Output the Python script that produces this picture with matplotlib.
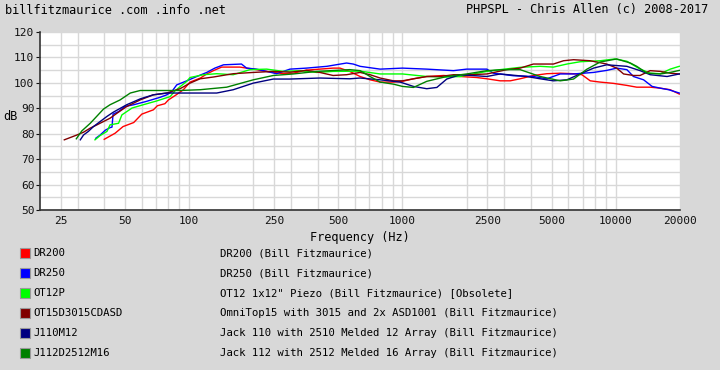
import matplotlib
matplotlib.use("Agg")
import matplotlib.pyplot as plt
from matplotlib.patches import Rectangle
from matplotlib.ticker import FixedLocator, NullFormatter

plt.rcParams['font.family'] = ['DejaVu Sans Mono']

# ---------------- data ----------------
dr200_f = [40, 45, 49, 55, 60, 68, 71, 77, 80, 87, 94, 101, 113, 121, 130, 142, 173, 200, 231, 277, 308, 355, 410, 473, 509, 566, 633,
           705, 786, 907, 1000, 1126, 1300, 1557, 1863, 2230, 2487, 2870, 3200, 3560, 4110, 4750, 5490, 6340, 6940, 7590, 8450, 9750,
           11270, 12540, 14500, 16200, 18000, 19850]
dr200_db = [77.8, 80.2, 82.8, 84.4, 87.7, 89.4, 91.0, 91.8, 93.3, 95.3, 97.3, 100.3, 101.9, 103.5, 104.8, 106.2, 106.2, 105.4, 104.5, 103.6, 103.8, 105.0, 105.4, 105.8, 105.8, 104.5, 102.5,
            101.2, 100.3, 100.3, 100.6, 101.6, 102.5, 102.9, 102.5, 102.1, 101.6, 100.8, 100.8, 101.6, 102.9, 103.6, 103.8, 103.6, 103.2, 100.8, 100.3, 99.8,
            99.0, 98.3, 98.3, 97.9, 97.3, 95.6]

dr250_f = [36.5, 38.3, 40.5, 42.6, 43.5, 44, 46.7, 50, 55, 63, 73, 78.6, 83, 87.5, 97.5, 108.6, 121, 132, 145, 176, 186, 207, 231, 257, 297, 355, 442, 547, 588, 633,
           786, 1000, 1300, 1735, 2000, 2487, 2670, 3310, 4110, 4750, 5490, 6340, 7870, 9070, 10100, 11270, 12100, 13500, 14800, 16200, 17700, 19850]
dr250_db = [78.2, 79.5, 81.4, 82.4, 82.6, 87.7, 88.7, 90.7, 91.4, 92.7, 94.3, 95.3, 96.6, 99.2, 100.8, 102.5, 104.1, 105.8, 107.1, 107.4, 105.8, 105.4, 104.5, 103.6, 105.4, 105.8, 106.5, 107.8, 107.4, 106.5,
            105.4, 105.8, 105.4, 104.8, 105.4, 105.4, 103.8, 102.8, 102.5, 101.6, 103.5, 103.5, 104.1, 104.9, 105.8, 105.2, 102.5, 101.2, 98.6, 97.9, 97.3, 96.0]

ot12p_f = [36.2, 38.3, 41.2, 42.6, 46.7, 48.4, 54, 61, 70.6, 81.5, 86, 97.5, 101, 116.7, 134.7, 161, 193, 231, 277, 331, 396, 473, 633,
           786, 1000, 1300, 1613, 1863, 2487, 2870, 3560, 4420, 5100, 5900, 6800, 8450, 9900, 11270, 13000, 14500, 16200, 18000, 19850]
ot12p_db = [77.6, 79.3, 80.9, 83.5, 84.1, 87.4, 90.1, 91.4, 92.9, 94.6, 96.9, 100.6, 102.1, 103.2, 103.6, 103.2, 105.2, 105.4, 104.5, 104.8, 104.1, 104.5, 104.6,
            103.5, 103.5, 102.5, 102.3, 102.5, 104.5, 105.2, 106.1, 106.5, 106.2, 107.4, 108.3, 108.7, 109.4, 108.5, 105.4, 103.8, 103.6, 105.4, 106.5]

ot15_f = [26, 29.8, 32, 34.4, 37, 39.7, 42.6, 45.8, 51, 59, 68, 78.6, 90.7, 101, 112.6, 130, 161, 200, 248, 297, 355, 410, 473, 547, 633,
          705, 786, 907, 1000, 1126, 1300, 1500, 1735, 2070, 2487, 3090, 3560, 4110, 5100, 5690, 6340, 7590, 9070, 10100, 10880, 12100, 13000, 14500, 16200, 18000, 19850]
ot15_db = [77.6, 79.5, 80.6, 82.2, 83.5, 84.8, 86.1, 88.0, 90.7, 93.3, 95.3, 96.0, 97.7, 99.9, 101.6, 102.3, 103.6, 104.1, 104.5, 104.2, 104.9, 104.1, 102.9, 103.2, 104.1,
           103.2, 101.9, 100.8, 100.8, 101.6, 102.5, 102.5, 103.2, 103.2, 103.5, 105.2, 105.8, 107.4, 107.4, 108.7, 109.1, 108.7, 107.4, 105.8, 103.5, 102.9, 102.9, 104.8, 104.5, 103.8, 103.5]

j110_f = [30.9, 32, 33.7, 35.6, 38.3, 41.2, 44.2, 51, 59, 68, 78.6, 90.7, 112.6, 134.7, 161, 200, 248, 297, 410, 566, 633,
          786, 975, 1126, 1300, 1450, 1613, 1863, 2487, 2870, 3820, 4420, 5100, 5900, 6800, 7870, 9070, 11270, 13000, 14500, 17400, 19850]
j110_db = [77.6, 79.5, 80.9, 82.8, 84.8, 86.8, 88.5, 91.4, 93.7, 95.3, 96.0, 96.0, 96.0, 96.0, 97.3, 99.9, 101.5, 101.5, 101.9, 101.6, 101.9,
           101.2, 100.3, 98.6, 97.7, 98.2, 101.5, 103.2, 102.5, 103.5, 102.5, 101.6, 100.8, 101.2, 103.5, 105.8, 107.1, 106.5, 104.8, 103.2, 102.5, 103.5]

j112_f = [29.6, 31.4, 34.4, 39.7, 42.6, 47.5, 53, 59, 73, 90.7, 112.6, 150, 200, 248, 308, 396, 566, 633,
          705, 786, 907, 1000, 1126, 1300, 1613, 2000, 2487, 2980, 3560, 4420, 5490, 6340, 7330, 8450, 10100, 11700, 12540, 14000, 16200, 18000, 19850]
j112_db = [78.0, 81.1, 84.1, 89.7, 91.4, 93.3, 96.0, 97.0, 97.0, 97.0, 97.3, 98.3, 101.2, 102.9, 103.5, 104.5, 105.2, 104.8,
           102.5, 100.3, 99.5, 98.6, 98.2, 100.6, 102.5, 103.5, 104.8, 105.2, 105.2, 102.5, 100.8, 101.5, 105.4, 108.2, 109.4, 107.8, 106.5, 103.8, 103.5, 104.1, 104.9]

names = ["DR200", "DR250", "OT12P", "OT15D3015CDASD", "J110M12", "J112D2512M16"]
descriptions = ["DR200 (Bill Fitzmaurice)",
                "DR250 (Bill Fitzmaurice)",
                "OT12 1x12\" Piezo (Bill Fitzmaurice) [Obsolete]",
                "OmniTop15 with 3015 and 2x ASD1001 (Bill Fitzmaurice)",
                "Jack 110 with 2510 Melded 12 Array (Bill Fitzmaurice)",
                "Jack 112 with 2512 Melded 16 Array (Bill Fitzmaurice)"]
colors = ["#ff0000", "#0000ff", "#00ff00", "#800000", "#000080", "#008000"]
series = [(dr200_f, dr200_db), (dr250_f, dr250_db), (ot12p_f, ot12p_db),
          (ot15_f, ot15_db), (j110_f, j110_db), (j112_f, j112_db)]

x_tick_vals = [25, 50, 100, 250, 500, 1000, 2500, 5000, 10000, 20000]
x_tick_labels = ["25", "50", "100", "250", "500", "1000", "2500", "5000", "10000", "20000"]
x_grid_vals = [30, 40, 60, 70, 80, 90, 200, 300, 400, 600, 700, 800, 900,
               2000, 3000, 4000, 6000, 7000, 8000, 9000]
y_tick_vals = [50, 60, 70, 80, 90, 100, 110, 120]
y_grid_vals = [55, 65, 75, 85, 95, 105, 115]

# ---------------- figure ----------------
W, H = 720, 370
bg = "#d8d8d8"
fig = plt.figure(figsize=(W / 100, H / 100), dpi=100, facecolor=bg)
ax = fig.add_axes([40 / W, 1 - 210 / H, 640 / W, 178 / H])
ax.set_facecolor("white")

for (f, db), c in zip(series, colors):
    ax.plot(f, db, color=c, lw=1.0)

ax.set_xscale("log")
ax.set_xlim(20, 20000)
ax.set_ylim(50, 120)
ax.xaxis.set_major_locator(FixedLocator(x_tick_vals))
ax.set_xticklabels(x_tick_labels)
ax.xaxis.set_minor_locator(FixedLocator(x_grid_vals))
ax.xaxis.set_minor_formatter(NullFormatter())
ax.yaxis.set_major_locator(FixedLocator(y_tick_vals))
ax.yaxis.set_minor_locator(FixedLocator(y_grid_vals))
ax.grid(True, which="both", color="#d8d8d8", lw=1.0)
ax.set_axisbelow(True)

for s in ["top", "right"]:
    ax.spines[s].set_visible(False)
for s in ["left", "bottom"]:
    ax.spines[s].set_color("#333333")
    ax.spines[s].set_linewidth(1.2)

ax.tick_params(axis="x", which="both", length=0, pad=4, labelsize=8, colors="#111111")
ax.tick_params(axis="y", which="major", length=3, pad=1, labelsize=8, colors="#111111")
ax.tick_params(axis="y", which="minor", length=0)

ax.set_xlabel("Frequency (Hz)", fontsize=8.6, labelpad=4)
fig.text(3 / W, 1 - 117 / H, "dB", fontsize=8.6, ha="left", va="center")

# header
fig.text(5 / W, 1 - 10 / H, "billfitzmaurice .com .info .net", fontsize=8.6, ha="left", va="center")
fig.text(708 / W, 1 - 10 / H, "PHPSPL - Chris Allen (c) 2008-2017", fontsize=8.6, ha="right", va="center")

# legend
for i, (n, d, c) in enumerate(zip(names, descriptions, colors)):
    yc = 253 + 20 * i
    fig.patches.append(Rectangle((20 / W, 1 - (yc + 5) / H), 10 / W, 10 / H,
                                 transform=fig.transFigure, facecolor=c,
                                 edgecolor="#999999", lw=0.8))
    fig.text(33 / W, 1 - yc / H, n, fontsize=7.7, ha="left", va="center")
    fig.text(220 / W, 1 - yc / H, d, fontsize=7.7, ha="left", va="center")

fig.savefig("out.png", dpi=100, facecolor=bg)
